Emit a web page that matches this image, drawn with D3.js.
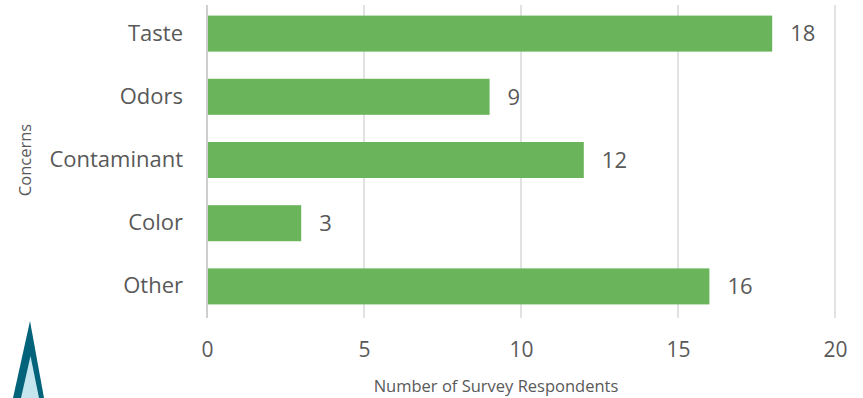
<!DOCTYPE html>
<html>
<head>
<meta charset="utf-8">
<script src="https://cdn.jsdelivr.net/npm/d3@7"></script>
<style>
  body { margin: 0; background: #fff; }
  svg text { font-family: "Open Sans", "Noto Sans", sans-serif; fill: #595959; }
</style>
</head>
<body>
<div id="chart"></div>
<script>
// Chart data
var concerns = ['Taste', 'Odors', 'Contaminant', 'Color', 'Other'];
var respondents = [18, 9, 12, 3, 16];
var xTicks = [0, 5, 10, 15, 20];

var width = 863;
var height = 398;

var svg = d3.select('#chart').append('svg')
  .attr('width', width)
  .attr('height', height);

var x = d3.scaleLinear()
  .domain([0, 20])
  .range([207, 835]);

var y = d3.scaleBand()
  .domain(concerns)
  .range([2, 318])
  .paddingInner(0.43)
  .paddingOuter(0.215);

// gridlines
svg.append('g')
  .selectAll('line')
  .data(xTicks)
  .enter()
  .append('line')
    .attr('x1', d => x(d))
    .attr('x2', d => x(d))
    .attr('y1', 5)
    .attr('y2', 318)
    .attr('stroke', d => d == 0 ? '#cfcfcf' : '#d9d9d9')
    .attr('stroke-width', d => d == 0 ? 2 : 1.5);

var data = concerns.map((c, i) => ({ name: c, value: respondents[i] }));

svg.append('g')
  .selectAll('rect')
  .data(data)
  .enter()
  .append('rect')
    .attr('x', x(0) + 1)
    .attr('y', d => y(d.name))
    .attr('width', d => x(d.value) - x(0) - 1)
    .attr('height', y.bandwidth())
    .attr('fill', '#6ab55b');

// value labels
svg.append('g')
  .selectAll('text')
  .data(data)
  .enter()
  .append('text')
    .attr('x', d => x(d.value) + 18)
    .attr('y', d => y(d.name) + y.bandwidth() / 2)
    .attr('dy', '0.35em')
    .attr('font-size', '22px')
    .text(d => d.value);

// category labels
var yAxis = d3.axisLeft(y).tickSize(0).tickPadding(0);
var gy = svg.append('g')
  .attr('transform', 'translate(183,0)')
  .call(yAxis);
gy.select('.domain').remove();
gy.selectAll('text')
  .attr('font-size', '22px')
  .attr('font-family', null)
  .attr('fill', null);

// x axis labels
var xAxis = d3.axisBottom(x).tickValues(xTicks).tickSize(0).tickPadding(0);
var gx = svg.append('g')
  .attr('transform', 'translate(0,342)')
  .call(xAxis);
gx.select('.domain').remove();
gx.selectAll('text')
  .attr('font-size', '21px')
  .attr('font-family', null)
  .attr('fill', null);

// axis titles
svg.append('text')
  .attr('x', 496)
  .attr('y', 392)
  .attr('text-anchor', 'middle')
  .attr('font-size', '16.5px')
  .text('Number of Survey Respondents');

svg.append('text')
  .attr('transform', 'translate(31,160) rotate(-90)')
  .attr('text-anchor', 'middle')
  .attr('font-size', '16.5px')
  .text('Concerns');

// logo mark
var logo = svg.append('g');
logo.append('path')
  .attr('d', 'M30,321 L44,398 L13,398 Z')
  .attr('fill', '#03637a');
logo.append('path')
  .attr('d', 'M30.5,356 L39,398 L21,398 Z')
  .attr('fill', '#c6e6ef');
</script>
</body>
</html>
